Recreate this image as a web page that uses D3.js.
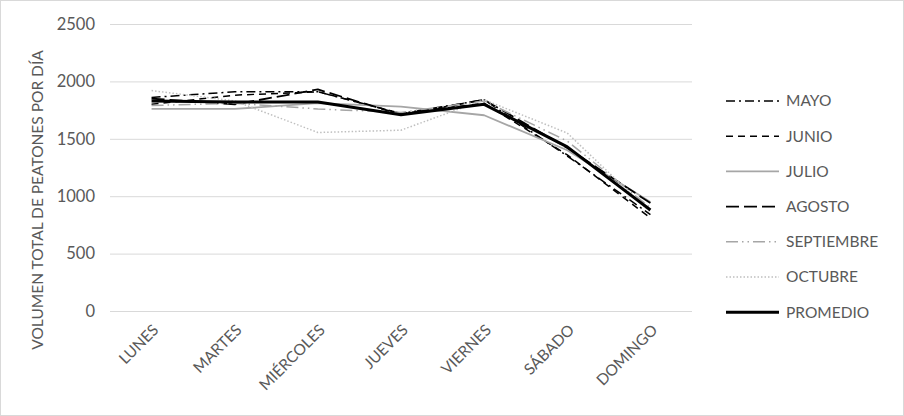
<!DOCTYPE html>
<html><head><meta charset="utf-8">
<script src="https://cdn.jsdelivr.net/npm/d3@7"></script>
<style>
body{margin:0;background:#fff;}
svg text{font-family:Lato,"Open Sans",sans-serif;fill:#595959;}
</style></head>
<body><svg id="c" width="904" height="416"></svg>
<script>
const categories = ["LUNES","MARTES","MIÉRCOLES","JUEVES","VIERNES","SÁBADO","DOMINGO"];
const seriesNames = ["MAYO","JUNIO","JULIO","AGOSTO","SEPTIEMBRE","OCTUBRE","PROMEDIO"];
const mayo       = [1860,1910,1910,1720,1840,1350,840];
const junio      = [1800,1880,1910,1720,1810,1360,810];
const julio      = [1760,1760,1810,1780,1705,1400,950];
const agosto     = [1850,1800,1930,1710,1840,1420,940];
const septiembre = [1790,1810,1760,1730,1830,1480,900];
const octubre    = [1920,1830,1555,1575,1840,1550,860];
const promedio   = [1830,1820,1820,1710,1800,1430,880];
const yTicks = [0,500,1000,1500,2000,2500];

const seriesValues = [mayo,junio,julio,agosto,septiembre,octubre,promedio];
const styles = [
  {color:"#000", width:1.5, dash:"9,4,2,4"},
  {color:"#000", width:1.5, dash:"7,5"},
  {color:"#a6a6a6", width:1.8, dash:null},
  {color:"#000", width:1.8, dash:"13,5"},
  {color:"#a6a6a6", width:1.5, dash:"12,4,1.5,4,1.5,4"},
  {color:"#bfbfbf", width:1.5, dash:"1.5,2"},
  {color:"#000", width:3, dash:null}
];
const FONT = "Lato,'Open Sans',sans-serif";

const svg = d3.select("#c");
svg.append("rect").attr("x",0.5).attr("y",0.5).attr("width",903).attr("height",415)
  .attr("fill","#fff").attr("stroke","#d9d9d9");

const pL=110, pR=692, pT=24, pB=311;
const x = d3.scaleBand().domain(categories).range([pL,pR]);
const y = d3.scaleLinear().domain([0,2500]).range([pB,pT]);

// gridlines + y labels
const ya = svg.append("g").attr("transform",`translate(${pL},0)`)
  .call(d3.axisLeft(y).tickValues(yTicks).tickFormat(d3.format("d")).tickSize(-(pR-pL)).tickPadding(15));
ya.select(".domain").remove();
ya.selectAll("line").attr("stroke","#d9d9d9").attr("stroke-width",1);
ya.selectAll("text").attr("font-size",16.5).attr("fill","#595959").style("font-family",FONT);

// x labels
const xa = svg.append("g").attr("transform",`translate(0,${pB})`)
  .call(d3.axisBottom(x).tickSize(0).tickPadding(0));
xa.select(".domain").remove();
xa.selectAll("text").attr("font-size",15.5).attr("fill","#595959")
  .style("font-family",FONT)
  .attr("text-anchor","end").attr("dy",0)
  .attr("transform","translate(8,20) rotate(-45)");

// y title
svg.append("text").attr("transform","translate(43,200) rotate(-90)")
  .attr("text-anchor","middle").attr("font-size",15.5).text("VOLUMEN TOTAL DE PEATONES POR DÍA");

// lines
const line = d3.line().x((d,i)=>x(categories[i])+x.bandwidth()/2).y(d=>y(d));
seriesValues.forEach((vals,i)=>{
  const s=styles[i];
  svg.append("path").datum(vals).attr("d",line).attr("fill","none")
    .attr("stroke",s.color).attr("stroke-width",s.width)
    .attr("stroke-dasharray",s.dash).attr("stroke-linejoin","round");
});

// legend
const lg = svg.append("g");
seriesNames.forEach((n,i)=>{
  const s=styles[i], yy=101+i*35.2;
  lg.append("line").attr("x1",726).attr("x2",779).attr("y1",yy).attr("y2",yy)
    .attr("stroke",s.color).attr("stroke-width",s.width).attr("stroke-dasharray",s.dash);
  lg.append("text").attr("x",786).attr("y",yy).attr("dy","0.35em").attr("font-size",15.5).text(n);
});
</script></body></html>
